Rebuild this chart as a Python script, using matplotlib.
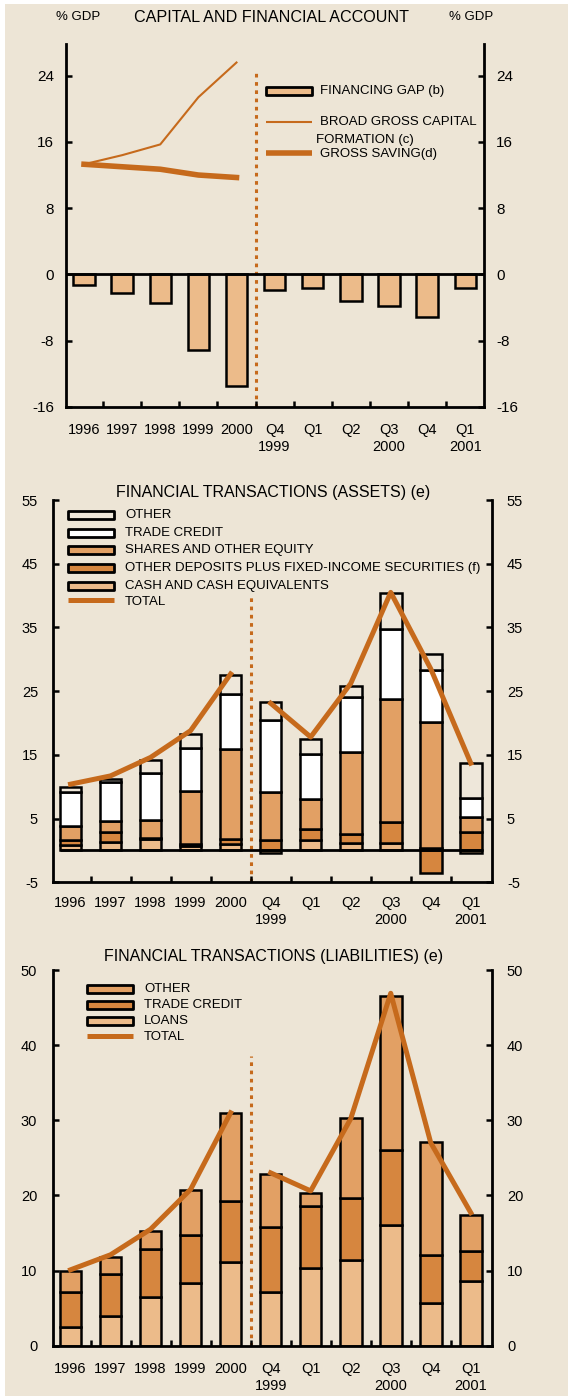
import matplotlib
matplotlib.use("Agg")
import matplotlib.pyplot as plt
from matplotlib.patches import Rectangle
from matplotlib.lines import Line2D
import numpy as np

plt.rcParams["font.family"] = ["Liberation Sans", "DejaVu Sans"]
plt.rcParams["axes.unicode_minus"] = False

# ---------------------------------------------------------------
# data (% GDP)
# ---------------------------------------------------------------
categories = ["1996", "1997", "1998", "1999", "2000",
              "Q4\n1999", "Q1", "Q2", "Q3\n2000", "Q4", "Q1\n2001"]

# capital and financial account
financing_gap = [-1.3, -2.3, -3.5, -9.2, -13.5, -1.9, -1.6, -3.2, -3.8, -5.1, -1.6]
broad_capital = [13.3, 14.4, 15.7, 21.4, 25.6]
gross_saving = [13.3, 13.0, 12.7, 12.0, 11.7]

# financial transactions, assets
assets_cash = [0.9, 1.3, 1.8, 0.7, 1.0, -0.4, 1.7, 1.2, 1.2, 0.4, -0.4]
assets_deposits = [0.7, 1.6, 0.2, 0.3, 0.8, 1.7, 1.6, 1.4, 3.2, -3.5, 2.9]
assets_shares = [2.2, 1.7, 2.8, 8.3, 14.1, 7.4, 4.7, 12.8, 19.3, 19.8, 2.4]
assets_trade = [5.3, 6.1, 7.4, 6.8, 8.6, 11.3, 7.1, 8.7, 11.1, 8.1, 3.0]
assets_other = [0.9, 0.5, 2.0, 2.2, 3.0, 2.9, 2.4, 1.7, 5.6, 2.5, 5.4]
assets_total_year = [10.4, 11.7, 14.6, 18.8, 27.7]
assets_total_qtr = [23.1, 17.8, 26.2, 40.5, 28.5, 13.7]

# financial transactions, liabilities
liab_loans = [2.5, 4.0, 6.5, 8.3, 11.1, 7.1, 10.3, 11.4, 16.0, 5.7, 8.6]
liab_trade = [4.7, 5.5, 6.4, 6.4, 8.1, 8.7, 8.3, 8.2, 10.1, 6.4, 4.0]
liab_other = [2.8, 2.3, 2.4, 6.0, 11.8, 7.0, 1.7, 10.7, 20.5, 15.0, 4.8]
liab_total_year = [10.1, 12.1, 15.5, 20.8, 31.0]
liab_total_qtr = [23.0, 20.6, 30.2, 46.9, 27.0, 17.7]

# ---------------------------------------------------------------
# style
# ---------------------------------------------------------------
BG = "#EDE5D6"
ORANGE = "#C66A1C"
LIGHT = "#ECBB8A"
MID = "#E2A064"
DARK = "#D6863F"
BEIGE = "#EEE7DA"
EDGE_LW = 1.8

W, H = 568, 1396
fig = plt.figure(figsize=(W / 100, H / 100), dpi=100, facecolor="white")
fig.patches.append(Rectangle((5 / W, 0), 1, 1 - 4 / H, transform=fig.transFigure,
                             facecolor=BG, edgecolor="none", zorder=-10))

x = np.arange(len(categories))
x_year = x[:5]
x_qtr = x[5:]


def fx(px):
    return px / W


def fy(py):
    return 1 - py / H


def style_axis(ax, ylim, yticks, pad_y, pad_x, ysize=10.5):
    ax.set_facecolor("none")
    ax.set_ylim(*ylim)
    ax.set_yticks(yticks)
    ax.set_xticks(x)
    ax.set_xticklabels(categories, linespacing=1.3)
    ax.set_xticks(x[:-1] + 0.5, minor=True)
    ax.spines["top"].set_visible(False)
    for side in ("left", "right", "bottom"):
        ax.spines[side].set_linewidth(2)
    ax.tick_params(axis="y", direction="in", length=4, width=1.8,
                   left=True, right=True, labelleft=True, labelright=True,
                   labelsize=ysize, pad=pad_y)
    ax.tick_params(axis="x", which="major", length=0, labelsize=10.5, pad=pad_x)
    ax.tick_params(axis="x", which="minor", direction="in", length=4, width=1.8)


def stacked(ax, series, colors, width):
    pos = np.zeros(len(categories))
    neg = np.zeros(len(categories))
    for vals, col in zip(series, colors):
        vals = np.asarray(vals, dtype=float)
        base = np.where(vals >= 0, pos, neg)
        ax.bar(x, vals, width, bottom=base, color=col,
               edgecolor="black", linewidth=EDGE_LW, zorder=2)
        pos = pos + np.clip(vals, 0, None)
        neg = neg + np.clip(vals, None, 0)


def key_box(px, py, color):
    fig.patches.append(Rectangle((fx(px), fy(py + 4)), 46 / W, 8 / H,
                                 transform=fig.transFigure, facecolor=color,
                                 edgecolor="black", linewidth=2, joinstyle="round"))


def key_line(px, py, lw):
    fig.lines.append(Line2D([fx(px), fx(px + 46)], [fy(py), fy(py)],
                            transform=fig.transFigure, color=ORANGE,
                            linewidth=lw, solid_capstyle="butt"))


def key_text(px, py, text, size=9.5):
    fig.text(fx(px), fy(py), text, fontsize=size, va="center", ha="left")


# ---------------------------------------------------------------
# capital and financial account
# ---------------------------------------------------------------
ax1 = fig.add_axes([fx(65.9), fy(406.7), (484.3 - 65.9) / W, (406.7 - 44.3) / H])
ax1.bar(x, financing_gap, 0.56, color=LIGHT, edgecolor="black",
        linewidth=EDGE_LW, zorder=2)
ax1.axhline(0, color="black", linewidth=2, zorder=3)
ax1.plot(x_year, broad_capital, color=ORANGE, linewidth=1.5, zorder=4)
ax1.plot(x_year, gross_saving, color=ORANGE, linewidth=4, zorder=4)
ax1.plot([4.5, 4.5], [-16, 24.5], color=ORANGE, linewidth=2.2,
         linestyle=(0, (1.2, 1.5)), zorder=1)
ax1.set_xlim(-0.475, 10.5)
style_axis(ax1, (-16, 27.8), [-16, -8, 0, 8, 16, 24], 8.5, 11.5, ysize=11)

fig.text(fx(271.7), fy(17), "CAPITAL AND FINANCIAL ACCOUNT", fontsize=11.6,
         ha="center", va="center")
fig.text(fx(78), fy(17), "% GDP", fontsize=9.5, ha="center", va="center")
fig.text(fx(471), fy(17), "% GDP", fontsize=9.5, ha="center", va="center")

key_box(266, 90.7, LIGHT)
key_text(320, 90.7, "FINANCING GAP (b)")
key_line(266, 122, 1.5)
key_text(320, 122, "BROAD GROSS CAPITAL")
key_text(316, 140, "FORMATION (c)")
key_line(266, 152.5, 4)
key_text(320, 154.5, "GROSS SAVING(d)")

# ---------------------------------------------------------------
# financial transactions, assets
# ---------------------------------------------------------------
ax2 = fig.add_axes([fx(53.3), fy(882.3), (491.6 - 53.3) / W, (882.3 - 500) / H])
stacked(ax2,
        [assets_cash, assets_deposits, assets_shares, assets_trade, assets_other],
        [LIGHT, DARK, MID, "white", BEIGE], 0.54)
ax2.hlines(0, -0.27, 10.27, color="black", linewidth=2, zorder=3)
ax2.plot(x_year, assets_total_year, color=ORANGE, linewidth=3.6, zorder=4)
ax2.plot(x_qtr, assets_total_qtr, color=ORANGE, linewidth=3.6, zorder=4)
ax2.plot([4.5, 4.5], [-5, 40.3], color=ORANGE, linewidth=2.2,
         linestyle=(0, (1.2, 1.5)), zorder=1)
ax2.set_xlim(-0.43, 10.52)
style_axis(ax2, (-5, 55), [-5, 5, 15, 25, 35, 45, 55], 11, 10)

fig.text(fx(273.5), fy(492.7), "FINANCIAL TRANSACTIONS (ASSETS) (e)",
         fontsize=11.5, ha="center", va="center")
asset_keys = [("OTHER", BEIGE), ("TRADE CREDIT", "white"),
              ("SHARES AND OTHER EQUITY", MID),
              ("OTHER DEPOSITS PLUS FIXED-INCOME SECURITIES (f)", DARK),
              ("CASH AND CASH EQUIVALENTS", LIGHT)]
for (label, col), ky in zip(asset_keys, [515, 533, 549.5, 568, 586]):
    key_box(68, ky, col)
    key_text(125, ky, label)
key_line(68, 600, 3.6)
key_text(125, 602, "TOTAL")

# ---------------------------------------------------------------
# financial transactions, liabilities
# ---------------------------------------------------------------
ax3 = fig.add_axes([fx(52.5), fy(1345.7), (491.6 - 52.5) / W, (1345.7 - 970) / H])
stacked(ax3, [liab_loans, liab_trade, liab_other], [LIGHT, DARK, MID], 0.54)
ax3.plot(x_year, liab_total_year, color=ORANGE, linewidth=3.6, zorder=4)
ax3.plot(x_qtr, liab_total_qtr, color=ORANGE, linewidth=3.6, zorder=4)
ax3.plot([4.5, 4.5], [0, 38.5], color=ORANGE, linewidth=2.2,
         linestyle=(0, (1.2, 1.5)), zorder=1)
ax3.set_xlim(-0.45, 10.52)
style_axis(ax3, (0, 50), [0, 10, 20, 30, 40, 50], 11, 11.5)

fig.text(fx(273.5), fy(956), "FINANCIAL TRANSACTIONS (LIABILITIES) (e)",
         fontsize=11.5, ha="center", va="center")
liab_keys = [("OTHER", MID), ("TRADE CREDIT", DARK), ("LOANS", LIGHT)]
for (label, col), ky in zip(liab_keys, [989, 1005, 1021]):
    key_box(87, ky, col)
    key_text(144, ky, label)
key_line(87, 1036, 3.6)
key_text(144, 1037, "TOTAL")

fig.savefig("out.png", dpi=100, facecolor=fig.get_facecolor())
